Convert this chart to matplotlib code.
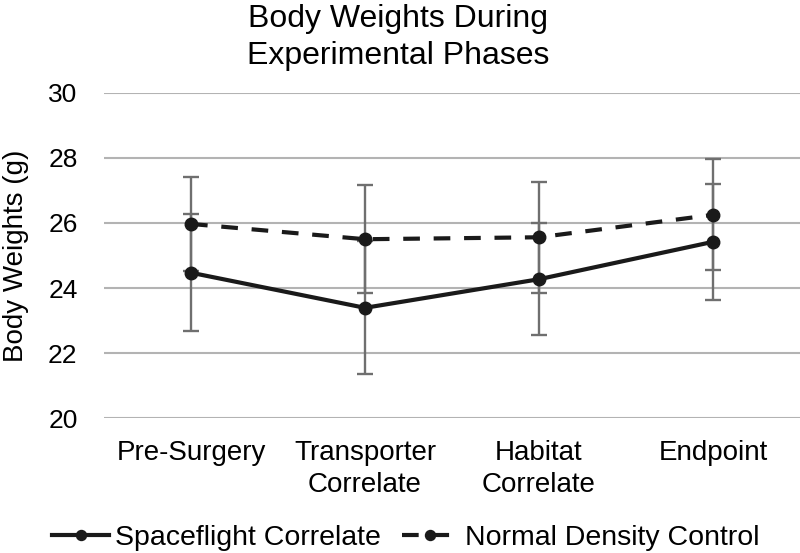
import matplotlib
matplotlib.use("Agg")
import matplotlib.pyplot as plt

plt.rcParams['font.family'] = ['Liberation Sans', 'DejaVu Sans']

categories = ["Pre-Surgery", "Transporter\nCorrelate", "Habitat\nCorrelate", "Endpoint"]
spaceflight = [24.47, 23.39, 24.27, 25.42]
spaceflight_err = [1.80, 2.05, 1.73, 1.79]
normal = [25.97, 25.50, 25.56, 26.25]
normal_err = [1.44, 1.66, 1.70, 1.71]

fig = plt.figure(figsize=(8, 5.53), dpi=100)
ax = fig.add_axes([0.13, 0.244, 0.87, 0.588])

x = list(range(len(categories)))

ax.errorbar(x, spaceflight, yerr=spaceflight_err, fmt='none', ecolor='#6f6f6f',
            elinewidth=1.7, capsize=6, capthick=1.7, zorder=2)
ax.errorbar(x, normal, yerr=normal_err, fmt='none', ecolor='#6f6f6f',
            elinewidth=1.7, capsize=6, capthick=1.7, zorder=2)
ax.plot(x, spaceflight, '-o', color='#1a1a1a', lw=3, ms=9,
        label='Spaceflight Correlate', zorder=3)
ax.plot(x, normal, '--o', color='#1a1a1a', lw=3, ms=9, dashes=(4, 3.3),
        label='Normal Density Control', zorder=3)

ax.set_xlim(-0.5, 3.5)
ax.set_ylim(20, 30)
ax.set_yticks([20, 22, 24, 26, 28, 30])
ax.set_xticks(x)
ax.set_xticklabels(categories, fontsize=20, linespacing=1.3)
ax.tick_params(axis='y', labelsize=19, length=0, pad=19)
ax.tick_params(axis='x', length=0, pad=16)
ax.grid(axis='y', color='#b3b3b3', lw=1.5)
ax.set_axisbelow(True)
for s in ax.spines.values():
    s.set_visible(False)

ax.set_ylabel("Body Weights (g)", fontsize=20, labelpad=14)
fig.text(0.498, 0.992, "Body Weights During\nExperimental Phases", ha='center', va='top',
         fontsize=23, linespacing=1.3)

fig.legend(loc='center', bbox_to_anchor=(0.507, 0.027), ncol=2, frameon=False,
           fontsize=20.5, handlelength=2.0, columnspacing=0.75, handletextpad=0.2,
           markerscale=0.8, borderpad=0)

fig.savefig("out.png", dpi=100)
